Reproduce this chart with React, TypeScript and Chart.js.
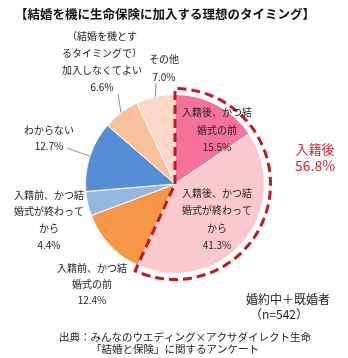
import React, { useEffect, useRef } from "react";
import { Chart, registerables } from "chart.js";

Chart.register(...registerables);

const categories = [
  "入籍後、かつ結婚式の前",
  "入籍後、かつ結婚式が終わってから",
  "入籍前、かつ結婚式の前",
  "入籍前、かつ結婚式が終わってから",
  "わからない",
  "（結婚を機とするタイミングで）加入しなくてよい",
  "その他",
];
const values = [15.5, 41.3, 12.4, 4.4, 12.7, 6.6, 7.0];
const labelLines = [
  ["入籍後、かつ結", "婚式の前", "15.5%"],
  ["入籍後、かつ結", "婚式が終わって", "から", "41.3%"],
  ["入籍前、かつ結", "婚式の前", "12.4%"],
  ["入籍前、かつ結", "婚式が終わって", "から", "4.4%"],
  ["わからない", "12.7%"],
  ["（結婚を機とす", "るタイミングで）", "加入しなくてよい", "6.6%"],
  ["その他", "7.0%"],
];
const colors = ["#F4729B", "#FAC9CF", "#F79646", "#95B6E0", "#558ED5", "#F9C09B", "#FCD8C8"];
const titleText = "【結婚を機に生命保険に加入する理想のタイミング】";
const groupLabel = ["入籍後", "56.8%"];
const sampleLabel = ["婚約中＋既婚者", "（n=542）"];
const sourceLines = ["出典：みんなのウエディング×アクサダイレクト生命", "「結婚と保険」に関するアンケート"];

// label anchor offsets relative to pie centre (layout only)
const labelOffsets: [number, number, number][] = [
  [42, -54, 17.5],
  [42, 35, 17.5],
  [-83, 100, 16],
  [-126, 36, 16.7],
  [-126, -46, 16],
  [-73, -122, 17],
  [-11, -116, 18],
];
const leaderEnds: ([number, number] | null)[] = [null, null, null, null, [-108, -36], [-57, -90], [-19, -101]];

const FONT = '"Noto Sans CJK JP", "Noto Sans", sans-serif';

export default function App() {
  const ref = useRef<HTMLCanvasElement>(null);
  useEffect(() => {
    const canvas = ref.current!;
    const plugin = {
      id: "labels",
      afterDraw(chart: any) {
        const ctx = chart.ctx as CanvasRenderingContext2D;
        const meta = chart.getDatasetMeta(0);
        const a0 = meta.data[0] as any;
        const a1 = meta.data[1] as any;
        const cx = a0.x;
        const cy = a0.y;
        const R = a0.outerRadius;
        ctx.save();
        // dashed outline around first two slices
        const Ro = R + 6;
        ctx.beginPath();
        ctx.moveTo(cx, cy);
        ctx.lineTo(cx + Math.cos(a0.startAngle) * Ro, cy + Math.sin(a0.startAngle) * Ro);
        ctx.arc(cx, cy, Ro, a0.startAngle, a1.endAngle);
        ctx.closePath();
        ctx.setLineDash([9, 5]);
        ctx.lineWidth = 3;
        ctx.strokeStyle = "#C8161E";
        ctx.lineJoin = "miter";
        ctx.stroke();
        ctx.setLineDash([]);

        // leader lines
        ctx.strokeStyle = "#8C8C8C";
        ctx.lineWidth = 1;
        meta.data.forEach((arc: any, i: number) => {
          const e = leaderEnds[i];
          if (!e) return;
          const mid = (arc.startAngle + arc.endAngle) / 2;
          ctx.beginPath();
          ctx.moveTo(cx + Math.cos(mid) * R, cy + Math.sin(mid) * R);
          ctx.lineTo(cx + e[0], cy + e[1]);
          ctx.stroke();
        });

        // slice labels
        ctx.fillStyle = "#222";
        ctx.font = `10px ${FONT}`;
        ctx.textAlign = "center";
        ctx.textBaseline = "middle";
        labelLines.forEach((lines, i) => {
          const [dx, dy, lh] = labelOffsets[i];
          const start = cy + dy - ((lines.length - 1) * lh) / 2;
          lines.forEach((t, j) => ctx.fillText(t, cx + dx, start + j * lh));
        });

        // title
        ctx.font = `bold 12.5px ${FONT}`;
        ctx.fillStyle = "#111";
        ctx.fillText(titleText, 165, 14);

        // group label
        ctx.fillStyle = "#D9262C";
        ctx.font = `13px ${FONT}`;
        ctx.fillText(groupLabel[0], 315, 149);
        ctx.font = `14px ${FONT}`;
        ctx.fillText(groupLabel[1], 315, 166);

        // sample
        ctx.fillStyle = "#222";
        ctx.font = `12px ${FONT}`;
        ctx.fillText(sampleLabel[0], 288, 299);
        ctx.fillText(sampleLabel[1], 279, 314);

        // source
        ctx.font = `10.5px ${FONT}`;
        ctx.fillText(sourceLines[0], 185, 337);
        ctx.fillText(sourceLines[1], 175, 349);
        ctx.restore();
      },
    };
    const chart = new Chart(canvas, {
      type: "pie",
      data: {
        labels: categories,
        datasets: [
          {
            data: values,
            backgroundColor: colors,
            borderColor: "#FFFFFF",
            borderWidth: 1,
          },
        ],
      },
      options: {
        animation: false,
        responsive: false,
        maintainAspectRatio: false,
        layout: { padding: { left: 85, right: 83, top: 94, bottom: 84 } },
        plugins: { legend: { display: false }, tooltip: { enabled: false }, title: { display: false } },
      },
      plugins: [plugin],
    });
    return () => chart.destroy();
  }, []);
  return (
    <div style={{ position: "fixed", left: 0, top: 0, width: 348, height: 358, background: "#fff" }}>
      <canvas ref={ref} width={348} height={358} style={{ width: 348, height: 358 }} />
    </div>
  );
}
